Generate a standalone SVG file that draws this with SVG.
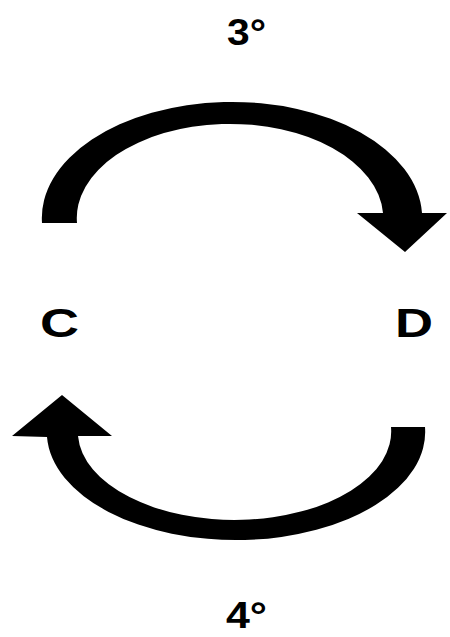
<svg xmlns="http://www.w3.org/2000/svg" width="450" height="637" viewBox="0 0 450 637">
<style>
.lbl{font-family:"Liberation Sans",Arial,sans-serif;font-weight:bold;fill:#000;}
.arr{fill:#000;stroke:none;}
</style>
<rect width="450" height="637" fill="#fff"/>
<g id="label-3">
<text class="lbl" x="227" y="45" font-size="37" textLength="39" lengthAdjust="spacingAndGlyphs">3°</text>
</g>
<g id="node-C">
<text class="lbl" x="40" y="337" font-size="41" textLength="39" lengthAdjust="spacingAndGlyphs">C</text>
</g>
<g id="node-D">
<text class="lbl" x="395" y="337" font-size="41" textLength="38" lengthAdjust="spacingAndGlyphs">D</text>
</g>
<g id="label-4">
<text class="lbl" x="226" y="628" font-size="36" textLength="41" lengthAdjust="spacingAndGlyphs">4°</text>
</g>
<g id="connectors">
<path class="arr" d="M42 223 A190 116 0 0 1 422 213 L447 213 L405 252 L357 213 L383 213 A153 94 0 0 0 77 223 Z"/>
<path class="arr" d="M425 427 A189 108 0 0 1 47 437 L12 436 L62 395 L112 436 L78 436 A156 88 0 0 0 391 427 Z"/>
</g>
</svg>
